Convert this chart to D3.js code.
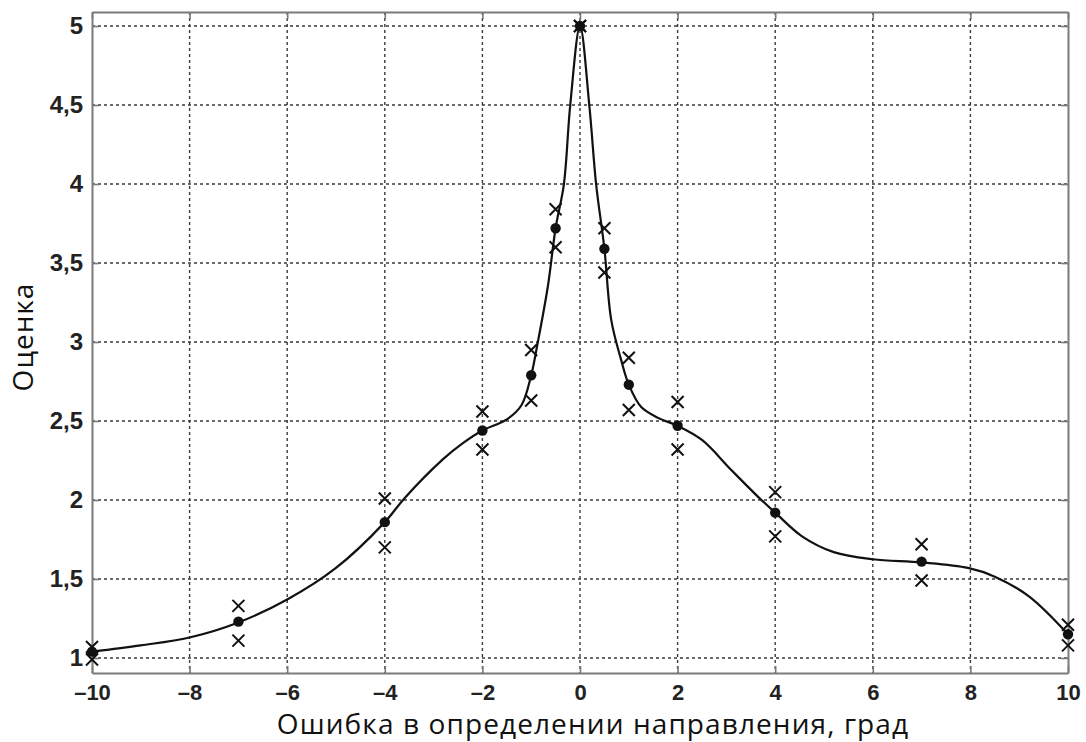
<!DOCTYPE html>
<html><head><meta charset="utf-8">
<script src="https://cdn.jsdelivr.net/npm/d3@7"></script>
<style>
html,body{margin:0;padding:0;background:#fff;}
svg{display:block;}
.tick text{font-family:"Liberation Sans",Arial,sans-serif;font-weight:bold;fill:#222;}
</style></head>
<body>
<svg id="chart" width="1086" height="742"></svg>
<script>
// Measurement positions (degrees)
const xPoints = [-10, -7, -4, -2, -1, -0.5, 0, 0.5, 1, 2, 4, 7, 10];
// Mean scores (dots)
const meanScores = [1.04, 1.23, 1.86, 2.44, 2.79, 3.72, 5.0, 3.59, 2.73, 2.47, 1.92, 1.61, 1.15];
// Upper and lower bounds (crosses)
const upperScores = [1.07, 1.33, 2.01, 2.56, 2.95, 3.84, 5.0, 3.72, 2.90, 2.62, 2.05, 1.72, 1.21];
const lowerScores = [0.99, 1.11, 1.70, 2.32, 2.63, 3.60, 5.0, 3.44, 2.57, 2.32, 1.77, 1.49, 1.08];
// Fitted curve
const curveX = [-10, -9, -8, -7, -6, -5, -4, -3.6, -2.8, -2.4, -2, -1.5, -1.2, -1, -0.87, -0.66, -0.5, -0.33, -0.2, 0, 0.19, 0.33, 0.5, 0.64, 0.84, 1, 1.25, 1.6, 2, 2.5, 3.1, 3.65, 4, 4.55, 5.2, 6, 7, 7.95, 8.5, 9.2, 10];
const curveY = [1.04, 1.08, 1.13, 1.225, 1.37, 1.57, 1.86, 2.01, 2.26, 2.36, 2.44, 2.51, 2.60, 2.79, 2.99, 3.35, 3.72, 4.0, 4.5, 5.0, 4.5, 4.0, 3.59, 3.14, 2.89, 2.73, 2.59, 2.52, 2.47, 2.38, 2.19, 2.02, 1.92, 1.77, 1.67, 1.625, 1.605, 1.57, 1.515, 1.39, 1.15];
// Ticks
const xTicks = [-10, -8, -6, -4, -2, 0, 2, 4, 6, 8, 10];
const yTicks = [1, 1.5, 2, 2.5, 3, 3.5, 4, 4.5, 5];
const xTitle = "Ошибка в определении направления, град";
const yTitle = "Оценка";

const svg = d3.select("#chart");
const L = 92, R = 1068, T = 12, B = 673;
const x = d3.scaleLinear().domain([-10, 10]).range([L, R]);
const y = d3.scaleLinear().domain([0.905, 5.089]).range([B, T]);

const fmtY = d => String(d).replace(".", ",");
const fmtX = d => d < 0 ? "\u2013" + Math.abs(d) : String(d);

// grid
const grid = svg.append("g").attr("stroke", "#3a3a3a").attr("stroke-width", 1.4).attr("stroke-dasharray", "3,3");
grid.selectAll("line.v").data(xTicks.filter(d => d > -10 && d < 10)).join("line")
  .attr("x1", d => x(d)).attr("x2", d => x(d)).attr("y1", T).attr("y2", B);
grid.selectAll("line.h").data(yTicks).join("line")
  .attr("y1", d => y(d)).attr("y2", d => y(d)).attr("x1", L).attr("x2", R);

// axes
const axB = svg.append("g").attr("transform", `translate(0,${B})`)
  .call(d3.axisBottom(x).tickValues(xTicks).tickFormat(fmtX).tickSizeInner(-7).tickSizeOuter(0).tickPadding(11));
const axL = svg.append("g").attr("transform", `translate(${L},0)`)
  .call(d3.axisLeft(y).tickValues(yTicks).tickFormat(fmtY).tickSizeInner(-7).tickSizeOuter(0).tickPadding(9));
const axT = svg.append("g").attr("transform", `translate(0,${T})`)
  .call(d3.axisTop(x).tickValues(xTicks).tickFormat("").tickSizeInner(-7).tickSizeOuter(0));
const axR = svg.append("g").attr("transform", `translate(${R},0)`)
  .call(d3.axisRight(y).tickValues(yTicks).tickFormat("").tickSizeInner(-7).tickSizeOuter(0));
[axB, axL, axT, axR].forEach(a => {
  a.select(".domain").attr("stroke", "#7a7a7a").attr("stroke-width", 2);
  a.selectAll(".tick line").attr("stroke", "#7a7a7a").attr("stroke-width", 1.6);
});
axB.selectAll(".tick text").attr("font-size", 22);
axL.selectAll(".tick text").attr("font-size", 24);

// curve
const pts = curveX.map((d, i) => [d, curveY[i]]);
svg.append("path").datum(pts)
  .attr("fill", "none").attr("stroke", "#111").attr("stroke-width", 2.2)
  .attr("d", d3.line().x(d => x(d[0])).y(d => y(d[1])).curve(d3.curveCatmullRom.alpha(0.5)));

// crosses
const crossData = [];
xPoints.forEach((d, i) => { crossData.push([d, upperScores[i]]); crossData.push([d, lowerScores[i]]); });
const s = 6;
svg.append("g").selectAll("path").data(crossData).join("path")
  .attr("d", d => `M${x(d[0]) - s},${y(d[1]) - s}L${x(d[0]) + s},${y(d[1]) + s}M${x(d[0]) - s},${y(d[1]) + s}L${x(d[0]) + s},${y(d[1]) - s}`)
  .attr("stroke", "#111").attr("stroke-width", 2).attr("fill", "none");

// dots
svg.append("g").selectAll("circle").data(xPoints).join("circle")
  .attr("cx", d => x(d)).attr("cy", (d, i) => y(meanScores[i])).attr("r", 5.2).attr("fill", "#111");

// titles
svg.append("text").attr("x", 593).attr("y", 734).attr("text-anchor", "middle")
  .attr("font-family", "'Open Sans','Noto Sans',sans-serif").attr("font-size", 28).attr("letter-spacing", 1.1)
  .attr("fill", "#111").text(xTitle);
svg.append("text").attr("transform", "translate(33,337) rotate(-90)").attr("text-anchor", "middle")
  .attr("font-family", "'Open Sans','Noto Sans',sans-serif").attr("font-size", 28).attr("letter-spacing", 1)
  .attr("fill", "#111").text(yTitle);
</script>
</body></html>
